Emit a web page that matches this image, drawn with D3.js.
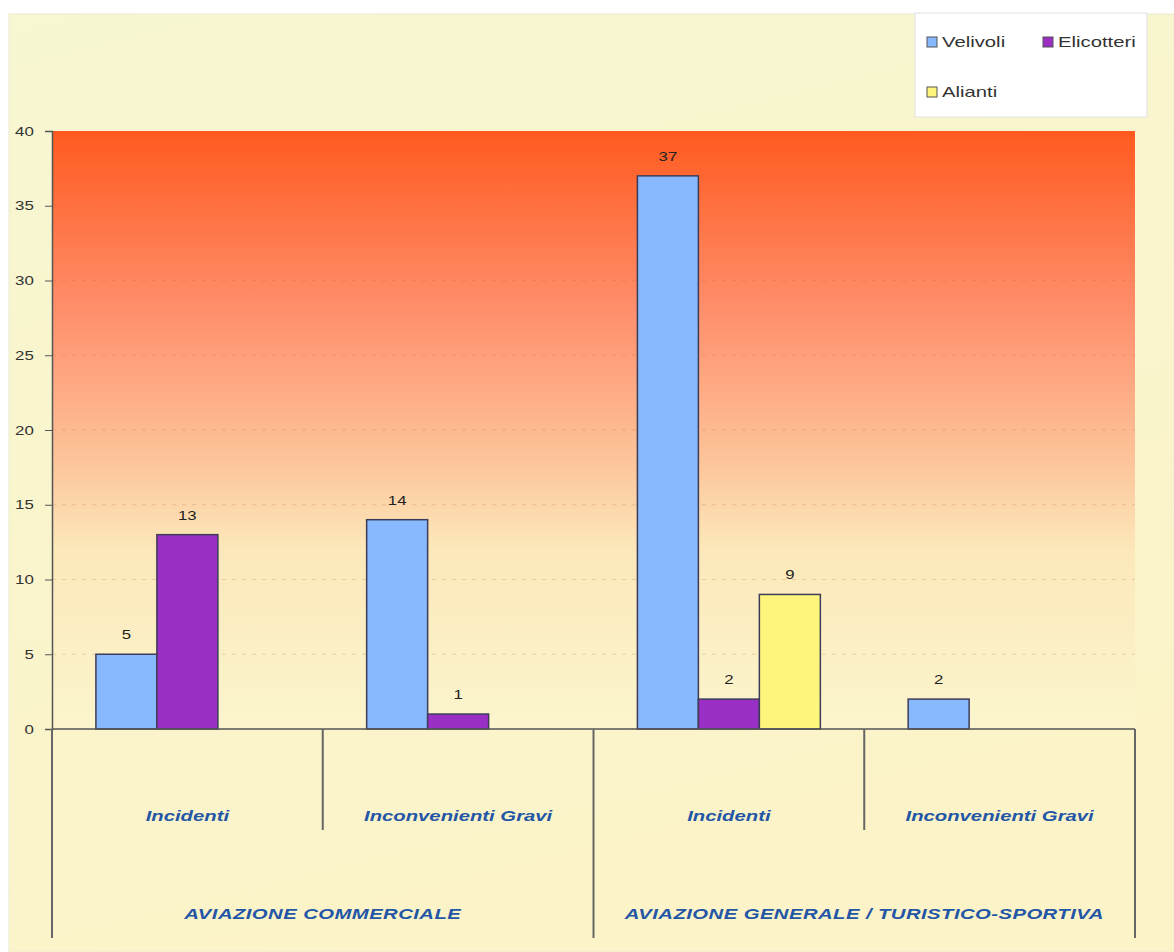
<!DOCTYPE html>
<html>
<head>
<meta charset="utf-8">
<script src="https://cdnjs.cloudflare.com/ajax/libs/d3/7.8.5/d3.min.js"></script>
<style>
  body { margin: 0; background: #ffffff; }
  text { font-family: "Liberation Sans", Arial, sans-serif; }
</style>
</head>
<body>
<div id="canvas"></div>
<script>
"use strict"

// data
let categories = ["Incidenti", "Inconvenienti Gravi", "Incidenti", "Inconvenienti Gravi"];
let groups = ["AVIAZIONE COMMERCIALE", "AVIAZIONE GENERALE / TURISTICO-SPORTIVA"];
let series = ["Velivoli", "Elicotteri", "Alianti"];
let velivoli = [5, 14, 37, 2];
let elicotteri = [13, 1, 2, 0];
let alianti = [0, 0, 9, 0];
let yTicks = [0, 5, 10, 15, 20, 25, 30, 35, 40];

let colors = { "Velivoli": "#88b8fd", "Elicotteri": "#9a2fc6", "Alianti": "#fdf57c" };
let values = { "Velivoli": velivoli, "Elicotteri": elicotteri, "Alianti": alianti };

let W = 1174, H = 952;
let plotLeft = 52, plotRight = 1135, plotTop = 131, plotBottom = 729;
let stretch = 1.45;   // the original text is drawn wide

let drawing = d3.select("#canvas")
    .append("svg")
    .attr("width", W)
    .attr("height", H);

let defs = drawing.append("defs");
let grad = defs.append("linearGradient")
    .attr("id", "plotgrad")
    .attr("x1", 0).attr("y1", 0).attr("x2", 0).attr("y2", 1);
grad.append("stop").attr("offset", "0%").attr("stop-color", "#ff5a1f");
grad.append("stop").attr("offset", "30%").attr("stop-color", "#ff8f6c");
grad.append("stop").attr("offset", "55%").attr("stop-color", "#fdc49a");
grad.append("stop").attr("offset", "70%").attr("stop-color", "#fce8ba");
grad.append("stop").attr("offset", "100%").attr("stop-color", "#fbf5cd");

let bggrad = defs.append("linearGradient")
    .attr("id", "bggrad")
    .attr("x1", 0).attr("y1", 0).attr("x2", 0.3).attr("y2", 1);
bggrad.append("stop").attr("offset", "0%").attr("stop-color", "#f7f7d2");
bggrad.append("stop").attr("offset", "100%").attr("stop-color", "#fcf3c8");

// chart background
let bg = drawing.append("rect")
    .attr("x", 9).attr("y", 14)
    .attr("width", W - 9).attr("height", H - 14)
    .attr("fill", "url(#bggrad)")
    .attr("stroke", "#ecebd0");

let x0 = d3.scaleBand()
    .domain(d3.range(categories.length))
    .range([plotLeft, plotRight])
    .padding(0);

let x1 = d3.scaleBand()
    .domain(series)
    .range([0, x0.bandwidth()])
    .paddingInner(0)
    .paddingOuter(0.72);

let y = d3.scaleLinear()
    .domain([0, 40])
    .range([plotBottom, plotTop]);

// plot area
let plot = drawing.append("rect")
    .attr("x", plotLeft).attr("y", plotTop)
    .attr("width", plotRight - plotLeft).attr("height", plotBottom - plotTop)
    .attr("fill", "url(#plotgrad)");

// grid lines
drawing.append("g")
    .selectAll("line")
    .data(yTicks.filter(d => d > 0 && d < 40))
    .join("line")
    .attr("x1", plotLeft).attr("x2", plotRight)
    .attr("y1", d => y(d)).attr("y2", d => y(d))
    .attr("stroke", "#b07040")
    .attr("stroke-opacity", 0.25)
    .attr("stroke-dasharray", "4,6");

// y axis
let yAxis = drawing.append("g")
    .attr("transform", `translate(${plotLeft},0)`)
    .call(d3.axisLeft(y).tickValues(yTicks).tickSize(7).tickPadding(7));
yAxis.select(".domain").attr("stroke", "#555").attr("stroke-width", 1.5);
yAxis.selectAll(".tick line").attr("stroke", "#555");
yAxis.selectAll(".tick text").attr("font-size", 13).attr("fill", "#333")
    .attr("transform", "scale(1.3,1)")
    .attr("font-family", "Liberation Sans, Arial, sans-serif");

// bars
let barGroups = drawing.append("g")
    .selectAll("g")
    .data(categories.map((c, i) => i))
    .join("g")
    .attr("transform", i => `translate(${x0(i)},0)`);

barGroups.selectAll("rect")
    .data(i => series.map(s => ({ s: s, v: values[s][i] })).filter(d => d.v > 0))
    .join("rect")
    .attr("x", d => x1(d.s))
    .attr("y", d => y(d.v))
    .attr("width", x1.bandwidth())
    .attr("height", d => y(0) - y(d.v))
    .attr("fill", d => colors[d.s])
    .attr("stroke", "#3c3c58")
    .attr("stroke-width", 1.5);

barGroups.selectAll("text")
    .data(i => series.map(s => ({ s: s, v: values[s][i] })).filter(d => d.v > 0))
    .join("text")
    .attr("transform", d => `translate(${x1(d.s) + x1.bandwidth() / 2},${y(d.v) - 15}) scale(1.4,1)`)
    .attr("text-anchor", "middle")
    .attr("font-size", 12)
    .attr("fill", "#222")
    .text(d => d.v);

// x axis line
let xLine = drawing.append("line")
    .attr("x1", plotLeft).attr("x2", plotRight)
    .attr("y1", plotBottom).attr("y2", plotBottom)
    .attr("stroke", "#555")
    .attr("stroke-width", 1.5);

// category separators
let seps = d3.range(categories.length + 1).map(i => i < categories.length ? x0(i) : plotRight);
drawing.append("g")
    .selectAll("line")
    .data(seps)
    .join("line")
    .attr("x1", d => d).attr("x2", d => d)
    .attr("y1", plotBottom)
    .attr("y2", (d, i) => i % 2 === 0 ? 938 : 830)
    .attr("stroke", "#666")
    .attr("stroke-width", 2);

// category labels
drawing.append("g")
    .selectAll("text")
    .data(categories)
    .join("text")
    .attr("transform", (d, i) => `translate(${x0(i) + x0.bandwidth() / 2},821) scale(${stretch},1)`)
    .attr("text-anchor", "middle")
    .attr("font-size", 14)
    .attr("font-weight", "bold")
    .attr("font-style", "italic")
    .attr("fill", "#2356a6")
    .text(d => d);

// group labels
drawing.append("g")
    .selectAll("text")
    .data(groups)
    .join("text")
    .attr("transform", (d, i) => `translate(${x0(i * 2) + x0.bandwidth()},919) scale(${stretch},1)`)
    .attr("text-anchor", "middle")
    .attr("font-size", 14)
    .attr("letter-spacing", 0.3)
    .attr("font-weight", "bold")
    .attr("font-style", "italic")
    .attr("fill", "#2356a6")
    .text(d => d);

// legend
let legend = drawing.append("g").attr("transform", "translate(915,13)");
legend.append("rect")
    .attr("width", 232).attr("height", 104)
    .attr("fill", "#ffffff")
    .attr("stroke", "#e2e2e2");
let legPos = [[12, 29], [128, 29], [12, 79]];
let items = legend.selectAll("g")
    .data(series)
    .join("g")
    .attr("transform", (d, i) => `translate(${legPos[i][0]},${legPos[i][1]})`);
items.append("rect")
    .attr("x", 0).attr("y", -5)
    .attr("width", 10).attr("height", 10)
    .attr("fill", d => colors[d])
    .attr("stroke", "#555")
    .attr("stroke-width", 1);
items.append("text")
    .attr("transform", `translate(15,5) scale(${stretch},1)`)
    .attr("font-size", 14)
    .attr("fill", "#333")
    .text(d => d);
</script>
</body>
</html>
